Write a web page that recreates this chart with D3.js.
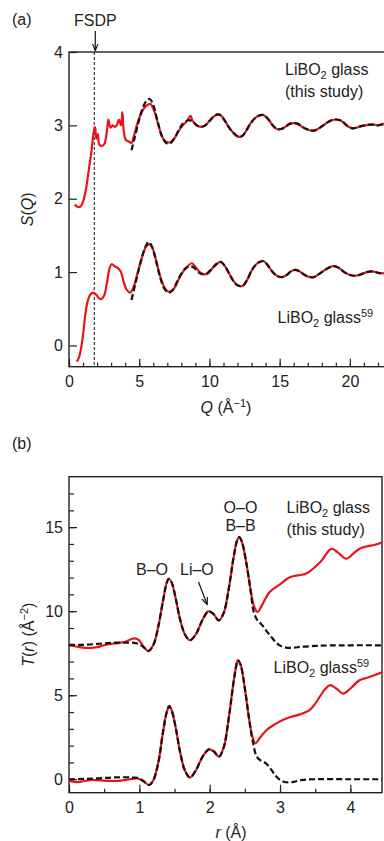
<!DOCTYPE html>
<html><head><meta charset="utf-8">
<script src="https://cdn.jsdelivr.net/npm/d3@7"></script>
<style>
html,body{margin:0;padding:0;background:#fff;}
svg{display:block;font-family:"Liberation Sans",Arial,Helvetica,sans-serif;}
</style></head><body>
<svg id="chart" width="384" height="841"></svg>
<script>
// ---------- Panel (a): S(Q) ----------
const qTicks = [0, 5, 10, 15, 20];
const qMinor = d3.range(0, 23, 1);
const sTicks = [0, 1, 2, 3, 4];

// this study (offset +2), measured
const qStudy = [0.4,0.6,0.8,1.0,1.2,1.4,1.6,1.75,1.85,1.95,2.05,2.15,2.3,2.5,2.7,2.8,2.95,3.1,3.25,3.4,3.55,3.7,3.8,3.9,4.05,4.25,4.45,4.6,4.8,5.0,5.3,5.6,5.8,6.1,6.4,6.7,7.0,7.2,7.5,7.8,8.1,8.4,8.65,8.8,9.1,9.4,9.7,10.0,10.3,10.6,10.85,11.1,11.4,11.7,12.0,12.3,12.6,12.9,13.2,13.5,13.85,14.2,14.5,14.8,15.1,15.4,15.7,16.0,16.3,16.6,16.9,17.2,17.5,17.8,18.1,18.4,18.7,19.0,19.3,19.6,19.9,20.2,20.5,20.8,21.1,21.4,21.7,22.0,22.3,22.6];
const sStudy = [1.92,1.89,1.89,1.96,2.12,2.38,2.65,2.9,2.98,2.82,2.88,2.74,2.72,2.74,2.92,3.08,2.97,3.0,2.98,3.0,3.08,3.0,3.18,2.92,2.8,2.78,2.76,2.84,2.98,3.1,3.22,3.28,3.29,3.18,2.98,2.82,2.77,2.77,2.82,2.92,3.0,3.06,3.13,3.06,3.0,2.98,3.0,3.06,3.12,3.15,3.13,3.06,2.97,2.9,2.85,2.85,2.92,3.02,3.09,3.13,3.14,3.08,3.0,2.95,2.95,2.98,3.02,3.03,3.02,2.98,2.95,2.93,2.93,2.96,3.0,3.04,3.07,3.08,3.07,3.03,2.98,2.96,2.97,2.99,3.0,3.01,3.01,3.0,3.02,3.0];
// this study fit (dashed)
const qStudyFit = [4.45,4.7,5.0,5.3,5.55,5.75,6.0,6.3,6.6,6.9,7.15,7.5,7.8,8.1,8.5,8.8,9.1,9.4,9.7,10.0,10.3,10.6,10.85,11.1,11.4,11.7,12.0,12.3,12.6,12.9,13.2,13.5,13.85,14.2,14.5,14.8,15.1,15.4,15.7,16.0,16.3,16.6,16.9,17.2,17.5,17.8,18.1,18.4,18.7,19.0,19.3,19.6,19.9,20.2,20.5,20.8,21.1,21.4,21.7,22.0,22.3,22.6];
const sStudyFit = [2.66,2.85,3.08,3.26,3.34,3.36,3.28,3.06,2.86,2.76,2.75,2.82,2.93,3.02,3.07,3.05,3.0,2.98,3.0,3.06,3.12,3.15,3.13,3.06,2.97,2.9,2.85,2.85,2.92,3.02,3.09,3.13,3.14,3.08,3.0,2.95,2.95,2.98,3.02,3.03,3.02,2.98,2.95,2.93,2.93,2.96,3.0,3.04,3.07,3.08,3.07,3.03,2.98,2.96,2.97,2.99,3.0,3.01,3.01,3.0,3.01,3.0];

// reference 59
const qRef = [0.55,0.7,0.85,1.0,1.15,1.3,1.5,1.7,1.9,2.1,2.3,2.5,2.7,2.9,3.05,3.25,3.5,3.7,3.9,4.1,4.35,4.6,4.9,5.2,5.5,5.75,6.0,6.3,6.6,6.9,7.2,7.5,7.8,8.1,8.4,8.75,9.0,9.3,9.6,9.9,10.2,10.5,10.8,11.1,11.4,11.7,12.0,12.35,12.7,13.0,13.3,13.6,13.85,14.2,14.5,14.8,15.15,15.5,15.8,16.1,16.4,16.7,17.0,17.4,17.7,18.0,18.4,18.8,19.2,19.6,20.0,20.4,20.8,21.2,21.6,22.0,22.6];
const sRef = [-0.22,-0.17,-0.05,0.15,0.4,0.58,0.69,0.72,0.7,0.65,0.63,0.68,0.85,1.06,1.11,1.08,1.05,1.0,0.86,0.76,0.72,0.8,1.0,1.2,1.35,1.38,1.3,1.08,0.88,0.76,0.73,0.78,0.9,1.0,1.07,1.12,1.07,1.0,0.97,0.98,1.05,1.11,1.14,1.08,0.98,0.88,0.82,0.81,0.9,1.02,1.1,1.14,1.15,1.08,1.0,0.95,0.93,0.96,1.01,1.03,1.01,0.97,0.94,0.93,0.96,1.0,1.05,1.08,1.06,1.0,0.96,0.95,0.97,1.0,1.01,0.99,0.98];
const qRefFit = [4.45,4.7,5.0,5.3,5.5,5.65,5.9,6.2,6.5,6.8,7.1,7.4,7.7,8.0,8.3,8.6,8.9,9.2,9.5,9.8,10.2,10.5,10.8,11.1,11.4,11.7,12.0,12.35,12.7,13.0,13.3,13.6,13.85,14.2,14.5,14.8,15.15,15.5,15.8,16.1,16.4,16.7,17.0,17.4,17.7,18.0,18.4,18.8,19.2,19.6,20.0,20.4,20.8,21.2,21.6,22.0,22.6];
const sRefFit = [0.62,0.82,1.06,1.27,1.37,1.41,1.35,1.15,0.92,0.77,0.72,0.76,0.87,0.98,1.05,1.08,1.06,1.0,0.97,0.98,1.05,1.11,1.14,1.08,0.98,0.88,0.82,0.81,0.9,1.02,1.1,1.14,1.15,1.08,1.0,0.95,0.93,0.96,1.01,1.03,1.01,0.97,0.94,0.93,0.96,1.0,1.05,1.08,1.06,1.0,0.96,0.95,0.97,1.0,1.01,0.99,0.98];
const fsdpQ = 1.8;

// ---------- Panel (b): T(r) ----------
const rTicks = [0, 1, 2, 3, 4];
const rMinor = d3.range(0, 4.51, 0.5);
const tTicks = [0, 5, 10, 15];
const tMinor = d3.range(0, 18, 1);

const rStudy = [0,0.1,0.2,0.3,0.4,0.5,0.6,0.7,0.8,0.9,0.95,1.0,1.05,1.13,1.2,1.27,1.34,1.39,1.42,1.46,1.52,1.58,1.65,1.72,1.8,1.9,1.98,2.05,2.13,2.2,2.27,2.34,2.39,2.42,2.46,2.52,2.58,2.63,2.68,2.75,2.85,3.0,3.14,3.38,3.57,3.73,3.82,3.94,4.05,4.13,4.23,4.35,4.5];
const tStudy = [7.97,7.9,7.83,7.81,7.86,7.97,8.05,8.1,8.18,8.36,8.37,8.25,7.95,7.63,8.0,9.1,10.7,11.7,11.93,11.7,10.7,9.5,8.6,8.27,8.6,9.5,9.99,9.85,9.45,9.9,11.3,13.2,14.2,14.4,14.1,12.9,11.3,10.3,9.95,10.4,11.13,11.6,12.02,12.26,12.91,13.71,13.5,13.12,13.45,13.71,13.85,13.95,14.15];
const rStudyFit = [0,0.2,0.4,0.6,0.8,0.95,1.05,1.13,1.2,1.27,1.34,1.39,1.42,1.46,1.52,1.58,1.65,1.72,1.8,1.9,1.98,2.05,2.13,2.2,2.27,2.34,2.39,2.42,2.46,2.52,2.58,2.63,2.68,2.74,2.8,2.87,2.93,3.0,3.09,3.2,3.3,3.5,3.7,4.0,4.5];
const tStudyFit = [8.0,8.0,8.05,8.12,8.12,8.1,7.9,7.63,8.0,9.1,10.7,11.7,11.93,11.7,10.7,9.5,8.6,8.27,8.6,9.5,9.99,9.85,9.45,9.9,11.3,13.2,14.2,14.4,14.1,12.9,11.3,9.9,9.45,9.2,8.86,8.5,8.2,7.95,7.83,7.83,7.88,7.93,7.96,7.97,7.97];

const rRef = [0,0.1,0.2,0.3,0.4,0.5,0.6,0.7,0.8,0.9,0.97,1.05,1.14,1.2,1.27,1.34,1.39,1.425,1.46,1.52,1.58,1.65,1.72,1.8,1.9,1.99,2.06,2.13,2.2,2.27,2.34,2.38,2.4,2.44,2.5,2.56,2.61,2.65,2.72,2.81,2.92,3.04,3.15,3.28,3.42,3.5,3.57,3.64,3.71,3.8,3.9,4.0,4.13,4.25,4.35,4.5];
const tRef = [-0.1,-0.17,-0.12,-0.05,-0.05,-0.08,-0.1,-0.1,-0.05,0.02,0.05,-0.1,-0.34,-0.05,1.0,2.9,4.0,4.35,4.1,3.0,1.6,0.5,0.1,0.5,1.35,1.78,1.65,1.34,1.9,3.6,5.8,6.8,7.08,6.8,5.4,3.6,2.5,2.14,2.5,2.93,3.25,3.52,3.7,3.86,4.11,4.5,4.94,5.35,5.6,5.4,5.1,5.4,5.89,6.05,6.2,6.45];
const rRefFit = [0,0.2,0.4,0.6,0.75,0.9,0.97,1.05,1.14,1.2,1.27,1.34,1.39,1.425,1.46,1.52,1.58,1.65,1.72,1.8,1.9,1.99,2.06,2.13,2.2,2.27,2.34,2.38,2.4,2.44,2.5,2.56,2.61,2.67,2.73,2.8,2.87,2.94,3.0,3.09,3.2,3.3,3.5,4.0,4.5];
const tRefFit = [0.0,0.02,0.05,0.1,0.12,0.1,0.08,-0.08,-0.34,-0.05,1.0,2.9,4.0,4.35,4.1,3.0,1.6,0.5,0.1,0.5,1.35,1.78,1.65,1.34,1.9,3.6,5.8,6.8,7.08,6.8,5.4,3.6,2.3,1.34,1.1,0.95,0.6,0.2,-0.04,-0.18,-0.15,-0.05,0.0,0.0,0.0];

// ---------- drawing ----------
const RED = "#e8141c", BLK = "#111";
const svg = d3.select("#chart");
const defs = svg.append("defs");
defs.append("marker").attr("id","arr").attr("viewBox","0 0 10 10").attr("refX",9).attr("refY",5)
  .attr("markerWidth",6).attr("markerHeight",6).attr("orient","auto-start-reverse")
  .append("path").attr("d","M0,1 L10,5 L0,9").attr("fill","none").attr("stroke",BLK).attr("stroke-width",1.6);

function panel(cfg){
  const {x, y, id} = cfg;
  const [x0,x1] = x.range(), [y0,y1] = y.range(); // y0 bottom
  defs.append("clipPath").attr("id",id).append("rect")
    .attr("x",x0).attr("y",y1).attr("width",x1-x0).attr("height",y0-y1);
  const g = svg.append("g");
  // minor ticks
  g.append("g").attr("transform",`translate(0,${y0})`)
    .call(d3.axisBottom(x).tickValues(cfg.xMinor).tickSize(-4).tickFormat(""))
    .call(a=>a.select(".domain").remove());
  if (cfg.yMinor) g.append("g").attr("transform",`translate(${x0},0)`)
    .call(d3.axisLeft(y).tickValues(cfg.yMinor).tickSize(-5).tickFormat(""))
    .call(a=>a.select(".domain").remove());
  // major
  g.append("g").attr("transform",`translate(0,${y0})`)
    .call(d3.axisBottom(x).tickValues(cfg.xTicks).tickSize(-8).tickPadding(8.5).tickFormat(d3.format("d")))
    .call(a=>a.select(".domain").remove())
    .call(a=>a.selectAll("text").attr("font-size",16).attr("fill","#222").attr("font-family",null));
  g.append("g").attr("transform",`translate(${x0},0)`)
    .call(d3.axisLeft(y).tickValues(cfg.yTicks).tickSize(-8).tickPadding(6).tickFormat(d3.format("d")))
    .call(a=>a.select(".domain").remove())
    .call(a=>a.selectAll("text").attr("font-size",16).attr("fill","#222").attr("font-family",null));
  g.selectAll(".tick line").attr("stroke","#222").attr("stroke-width",1.2);
  g.append("rect").attr("x",x0).attr("y",y1).attr("width",x1-x0).attr("height",y0-y1)
    .attr("fill","none").attr("stroke","#222").attr("stroke-width",1.4);
  const cg = svg.append("g").attr("clip-path",`url(#${id})`);
  return cg;
}

// Panel a
const xQ = d3.scaleLinear([0,22.5],[69,385]);
const yS = d3.scaleLinear([-0.29,4],[366.7,52]);
const ga = panel({x:xQ,y:yS,id:"ca",xTicks:qTicks,xMinor:qMinor,yTicks:sTicks,yMinor:null});
const lineA = d3.line().x(d=>xQ(d[0])).y(d=>yS(d[1])).curve(d3.curveCatmullRom.alpha(0.5));
ga.append("line").attr("x1",xQ(fsdpQ)).attr("x2",xQ(fsdpQ)).attr("y1",yS(4)).attr("y2",yS(-0.29))
  .attr("stroke",BLK).attr("stroke-width",1).attr("stroke-dasharray","3,2");
ga.append("path").attr("d",lineA(d3.zip(qStudy,sStudy))).attr("fill","none").attr("stroke",RED).attr("stroke-width",2.2);
ga.append("path").attr("d",lineA(d3.zip(qRef,sRef))).attr("fill","none").attr("stroke",RED).attr("stroke-width",2.2);
ga.append("path").attr("d",lineA(d3.zip(qStudyFit,sStudyFit))).attr("fill","none").attr("stroke",BLK).attr("stroke-width",2.2).attr("stroke-dasharray","6,3");
ga.append("path").attr("d",lineA(d3.zip(qRefFit,sRefFit))).attr("fill","none").attr("stroke",BLK).attr("stroke-width",2.2).attr("stroke-dasharray","6,3");

// Panel b
const xr = d3.scaleLinear([0,4.45],[69,382]);
const yT = d3.scaleLinear([-0.8,18],[792.7,476.7]);
const gb = panel({x:xr,y:yT,id:"cb",xTicks:rTicks,xMinor:rMinor,yTicks:tTicks,yMinor:tMinor});
const lineB = d3.line().x(d=>xr(d[0])).y(d=>yT(d[1])).curve(d3.curveCatmullRom.alpha(0.5));
gb.append("path").attr("d",lineB(d3.zip(rStudy,tStudy))).attr("fill","none").attr("stroke",RED).attr("stroke-width",2.2);
gb.append("path").attr("d",lineB(d3.zip(rRef,tRef))).attr("fill","none").attr("stroke",RED).attr("stroke-width",2.2);
gb.append("path").attr("d",lineB(d3.zip(rStudyFit,tStudyFit))).attr("fill","none").attr("stroke",BLK).attr("stroke-width",2.2).attr("stroke-dasharray","6,3");
gb.append("path").attr("d",lineB(d3.zip(rRefFit,tRefFit))).attr("fill","none").attr("stroke",BLK).attr("stroke-width",2.2).attr("stroke-dasharray","6,3");

// ---------- text ----------
const T = svg.append("g").attr("font-size",16).attr("fill","#222");
function txt(x,y,s,anchor){ return T.append("text").attr("x",x).attr("y",y).attr("text-anchor",anchor||"start").text(s); }
function glass(x,y,sup){
  const t = T.append("text").attr("x",x).attr("y",y);
  t.append("tspan").text("LiBO");
  t.append("tspan").attr("font-size",11).attr("dy",4).text("2");
  t.append("tspan").attr("dy",-4).text(" glass");
  if (sup) t.append("tspan").attr("font-size",11).attr("dy",-6).text(sup);
  return t;
}
txt(12,25,"(a)");
txt(xQ(fsdpQ)+1,26,"FSDP","middle");
svg.append("line").attr("x1",xQ(fsdpQ)+1).attr("x2",xQ(fsdpQ)+1).attr("y1",31).attr("y2",50)
  .attr("stroke",BLK).attr("stroke-width",1.2).attr("marker-end","url(#arr)");
glass(285,75);
txt(285,97,"(this study)");
glass(277.5,323,"59");
{ const t = T.append("text").attr("x",226).attr("y",413).attr("text-anchor","middle");
  t.append("tspan").attr("font-style","italic").text("Q");
  t.append("tspan").text(" (Å");
  t.append("tspan").attr("font-size",11).attr("dy",-6).text("−1");
  t.append("tspan").attr("dy",6).text(")"); }
{ const t = T.append("text").attr("transform",`translate(33,${(yS.range()[0]+yS.range()[1])/2}) rotate(-90)`).attr("text-anchor","middle");
  t.append("tspan").attr("font-style","italic").text("S");
  t.append("tspan").text("(");
  t.append("tspan").attr("font-style","italic").text("Q");
  t.append("tspan").text(")"); }

txt(12,449,"(b)");
txt(240.5,513,"O–O","middle");
txt(240.5,531,"B–B","middle");
glass(286.5,513);
txt(286.5,535,"(this study)");
txt(136,575,"B–O");
txt(180,575,"Li–O");
svg.append("line").attr("x1",198.5).attr("y1",582).attr("x2",207).attr("y2",604)
  .attr("stroke",BLK).attr("stroke-width",1.2).attr("marker-end","url(#arr)");
glass(273.5,673,"59");
{ const t = T.append("text").attr("x",231).attr("y",838).attr("text-anchor","middle");
  t.append("tspan").attr("font-style","italic").text("r");
  t.append("tspan").text(" (Å)"); }
{ const t = T.append("text").attr("transform",`translate(34,${(yT.range()[0]+yT.range()[1])/2}) rotate(-90)`).attr("text-anchor","middle");
  t.append("tspan").attr("font-style","italic").text("T");
  t.append("tspan").text("(");
  t.append("tspan").attr("font-style","italic").text("r");
  t.append("tspan").text(") (Å");
  t.append("tspan").attr("font-size",11).attr("dy",-6).text("−2");
  t.append("tspan").attr("dy",6).text(")"); }
</script></body></html>
